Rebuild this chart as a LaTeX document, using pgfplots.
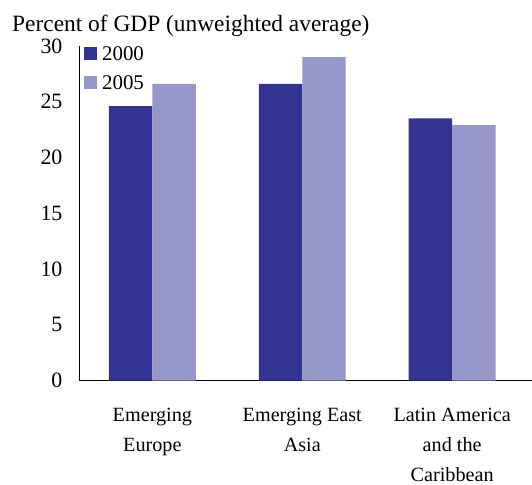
\documentclass[border=0pt]{standalone}
\usepackage{fontspec}
\setmainfont{Liberation Serif}
\usepackage{pgfplots}
\pgfplotsset{compat=1.18}
\definecolor{darkbar}{RGB}{51,51,145}
\definecolor{lightbar}{RGB}{151,151,201}
\begin{document}
\begin{tikzpicture}
\begin{axis}[
  name=ax,
  scale only axis,
  width=453bp, height=335bp,
  ybar, bar width=0.29,
  xmin=-0.49, xmax=2.53,
  ymin=0, ymax=30,
  ytick={0,5,...,30},
  xtick={0,1,2},
  xticklabels={Emerging\\Europe, Emerging East\\Asia, Latin America\\and the\\Caribbean},
  axis x line=bottom, axis y line=left,
  axis line style={-, line width=0.8pt},
  major tick length=0pt,
  yticklabel style={font=\fontsize{22}{26}\selectfont, xshift=-13bp},
  /pgf/number format/assume math mode=true,
  xticklabel style={font=\fontsize{20.3}{30}\selectfont, align=center, yshift=-24bp},
  legend style={at={(0,1)}, anchor=north west, xshift=2bp, yshift=4bp, draw=none, fill=none,
    font=\fontsize{21}{24}\selectfont, row sep=10bp, cells={anchor=west}},
  legend image code/.code={\fill[#1] (0bp,-6bp) rectangle (13bp,7bp);},
]
\addplot[fill=darkbar, draw=none, bar shift=-0.145] coordinates {(0,24.6) (1,26.6) (2,23.5)};
\addlegendentry{\hspace{3bp}2000}
\addplot[fill=lightbar, draw=none, bar shift=0.145] coordinates {(0,26.6) (1,29.0) (2,22.9)};
\addlegendentry{\hspace{3bp}2005}
\end{axis}
\node[anchor=base west, font=\fontsize{23.5}{26}\selectfont, inner sep=0pt] at ([xshift=-67bp, yshift=14bp]ax.north west) {Percent of GDP (unweighted average)};
\path ([xshift=-79bp, yshift=-99bp]ax.south west) rectangle ++(532bp,480bp);
\end{tikzpicture}
\end{document}
